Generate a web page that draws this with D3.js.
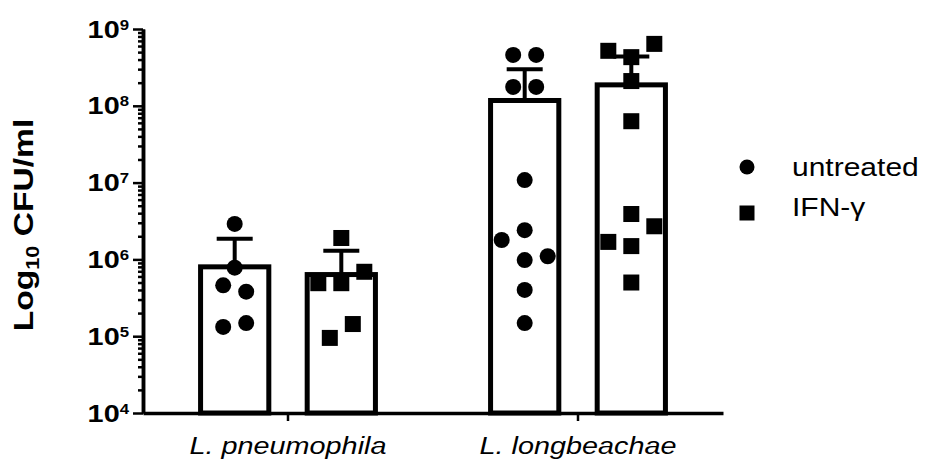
<!DOCTYPE html>
<html>
<head>
<meta charset="utf-8">
<script src="https://cdn.jsdelivr.net/npm/d3@7"></script>
<style>
  html, body { margin: 0; padding: 0; background: #fff; }
  svg { display: block; font-family: "Liberation Sans", Arial, sans-serif; }
</style>
</head>
<body>
<svg id="chart" width="928" height="459"></svg>
<script>
// CFU/ml per replicate, grouped by species and treatment
const categories = ["L. pneumophila", "L. longbeachae"];
const groups = ["untreated", "IFN-γ"];
const pneumophilaUntreated = [2.9e6, 7.8e5, 4.6e5, 3.8e5, 1.32e5, 1.48e5];
const pneumophilaIFN = [1.9e6, 4.9e5, 4.9e5, 6.9e5, 9.5e4, 1.44e5];
const longbeachaeUntreated = [4.6e8, 4.6e8, 1.76e8, 1.76e8, 1.08e7, 2.4e6, 1.79e6, 9.8e5, 1.1e6, 4.0e5, 1.48e5];
const longbeachaeIFN = [5.2e8, 4.3e8, 6.4e8, 2.1e8, 6.3e7, 3.9e6, 1.69e6, 1.49e6, 2.7e6, 5.0e5];
const yTickExponents = [4, 5, 6, 7, 8, 9];
const yAxisTitle = ["Log", "10", " CFU/ml"];

const series = [
  { category: categories[0], group: groups[0], values: pneumophilaUntreated },
  { category: categories[0], group: groups[1], values: pneumophilaIFN },
  { category: categories[1], group: groups[0], values: longbeachaeUntreated },
  { category: categories[1], group: groups[1], values: longbeachaeIFN }
];

const svg = d3.select("#chart");
const textStretch = 1.2;

const y = d3.scaleLog().domain([1e4, 1e9]).range([413, 29]);
const x0 = d3.scaleBand().domain(categories).range([143, 723]);
const x1 = d3.scaleBand().domain(groups).range([0, x0.bandwidth()])
  .paddingInner(0.36).paddingOuter(0.54);

// summary statistics: mean and sample SD
series.forEach(s => {
  s.mean = d3.mean(s.values);
  s.sd = d3.deviation(s.values);
  s.cx = x0(s.category) + x1(s.group) + x1.bandwidth() / 2;
});

// bars
svg.append("g").selectAll("rect").data(series).join("rect")
  .attr("x", d => x0(d.category) + x1(d.group))
  .attr("y", d => y(d.mean))
  .attr("width", x1.bandwidth())
  .attr("height", d => y(1e4) - y(d.mean))
  .attr("fill", "#fff")
  .attr("stroke", "#000")
  .attr("stroke-width", 5);

// error bars (mean + SD)
const eb = svg.append("g").attr("stroke", "#000").attr("stroke-width", 4);
eb.selectAll("line.v").data(series).join("line").attr("class", "v")
  .attr("x1", d => d.cx).attr("x2", d => d.cx)
  .attr("y1", d => y(d.mean)).attr("y2", d => y(d.mean + d.sd));
eb.selectAll("line.cap").data(series).join("line").attr("class", "cap")
  .attr("x1", d => d.cx - 18).attr("x2", d => d.cx + 18)
  .attr("y1", d => y(d.mean + d.sd)).attr("y2", d => y(d.mean + d.sd));

// scatter layout: bin points into rows from the bottom, spread each row
const rowHeight = 22, spacing = 23;
function swarm(s) {
  const pts = s.values.map((v, i) => ({ v, i, py: y(v) }));
  const sorted = pts.slice().sort((a, b) => b.py - a.py);
  const rows = [];
  let current = null;
  sorted.forEach(p => {
    if (!current || current.start - p.py > rowHeight) {
      current = { start: p.py, items: [] };
      rows.push(current);
    }
    current.items.push(p);
  });
  rows.forEach(r => {
    r.items.sort((a, b) => a.i - b.i);
    const n = r.items.length;
    r.items.forEach((p, k) => { p.px = s.cx + (k - (n - 1) / 2) * spacing; });
  });
  return pts;
}

const pointLayer = svg.append("g").attr("fill", "#000");
series.forEach(s => {
  const pts = swarm(s);
  if (s.group === groups[0]) {
    pointLayer.selectAll(null).data(pts).join("circle")
      .attr("cx", d => d.px).attr("cy", d => d.py).attr("r", 8);
  } else {
    pointLayer.selectAll(null).data(pts).join("rect")
      .attr("x", d => d.px - 8).attr("y", d => d.py - 8)
      .attr("width", 16).attr("height", 16);
  }
});

// y axis: minor and major log ticks
const minorTicks = [];
yTickExponents.slice(0, -1).forEach(e => {
  for (let m = 2; m <= 9; m++) minorTicks.push(m * Math.pow(10, e));
});
const majorTicks = yTickExponents.map(e => Math.pow(10, e));

const yMinor = svg.append("g").attr("transform", "translate(143,0)")
  .call(d3.axisLeft(y).tickValues(minorTicks).tickSize(5).tickSizeOuter(0).tickFormat(""));
const yMajor = svg.append("g").attr("transform", "translate(143,0)")
  .call(d3.axisLeft(y).tickValues(majorTicks).tickSize(10).tickSizeOuter(0).tickFormat(""));
[yMinor, yMajor].forEach(g => {
  g.select(".domain").attr("stroke-width", 3.5);
  g.selectAll(".tick line").attr("stroke-width", 2.5);
});

// tick labels as 10^n
yTickExponents.forEach(e => {
  const t = svg.append("g")
    .attr("transform", `translate(129,${y(Math.pow(10, e)) + 8.5}) scale(${textStretch},1)`)
    .append("text").attr("text-anchor", "end").attr("font-weight", "bold");
  t.append("tspan").attr("font-size", 24).text("10");
  t.append("tspan").attr("font-size", 14).attr("dy", -8).text(e);
});

// y axis title
const yt = svg.append("g")
  .attr("transform", `translate(33,225) rotate(-90) scale(${textStretch},1)`)
  .append("text").attr("text-anchor", "middle").attr("font-weight", "bold");
yt.append("tspan").attr("font-size", 28).text(yAxisTitle[0]);
yt.append("tspan").attr("font-size", 18).attr("dy", 6).text(yAxisTitle[1]);
yt.append("tspan").attr("font-size", 28).attr("dy", -6).text(yAxisTitle[2]);

// x axis
const xAxis = svg.append("g").attr("transform", "translate(0,413)")
  .call(d3.axisBottom(x0).tickSize(8).tickSizeOuter(0).tickFormat(""));
xAxis.select(".domain").attr("stroke-width", 3.5);
xAxis.selectAll(".tick line").attr("stroke-width", 2.5);

categories.forEach(c => {
  svg.append("g")
    .attr("transform", `translate(${x0(c) + x0.bandwidth() / 2},454) scale(${textStretch},1)`)
    .append("text").attr("text-anchor", "middle")
    .attr("font-size", 24).attr("font-style", "italic").text(c);
});

// legend
const legend = svg.append("g");
legend.append("circle").attr("cx", 747).attr("cy", 167).attr("r", 7.5).attr("fill", "#000");
legend.append("rect").attr("x", 739.5).attr("y", 205.5).attr("width", 15).attr("height", 15).attr("fill", "#000");
[[groups[0], 176], [groups[1], 216]].forEach(([label, by]) => {
  legend.append("g").attr("transform", `translate(792,${by}) scale(${textStretch},1)`)
    .append("text").attr("font-size", 25).text(label);
});
</script>
</body>
</html>
